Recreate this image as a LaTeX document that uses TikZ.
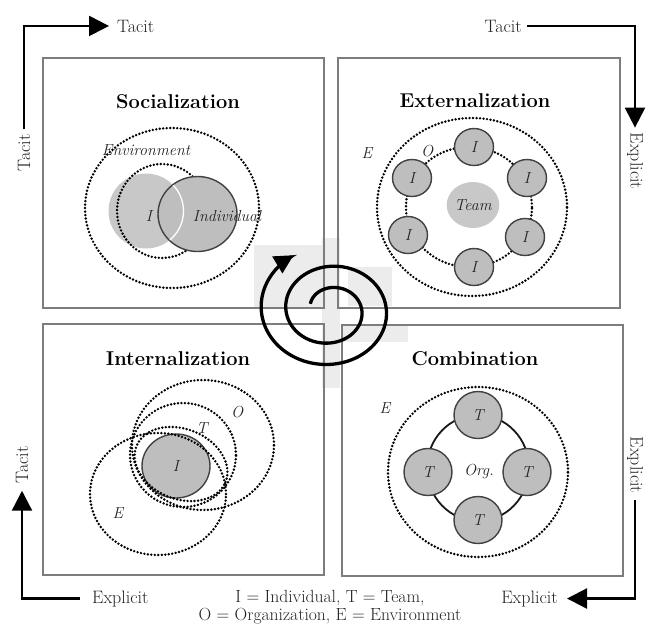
\documentclass[tikz,border=0pt]{standalone}
\usepackage{fontspec}
\setmainfont{Latin Modern Roman}
\usetikzlibrary{arrows.meta,shapes.geometric}
\definecolor{boxgray}{RGB}{125,125,125}
\definecolor{fillgray}{RGB}{190,190,190}
\definecolor{lightfill}{RGB}{200,200,200}
\definecolor{bgpatch}{RGB}{236,236,236}
\definecolor{txt}{RGB}{35,35,35}
\definecolor{rim}{RGB}{65,65,65}
\tikzset{
  quad/.style={draw=boxgray, line width=1.1pt},
  dotring/.style={draw=black, line width=2.7pt, dash pattern=on 0pt off 3.5pt, line cap=round},
  flow/.style={draw=black, line width=2.3pt, -{Triangle[length=20pt,width=20pt]}},
  lab/.style={font=\fontsize{18}{21}\selectfont, text=txt, inner sep=0pt},
  ilab/.style={font=\fontsize{16}{19}\selectfont\itshape, text=txt, inner sep=0pt},
  ttl/.style={font=\fontsize{20}{24}\selectfont\bfseries, inner sep=0pt, anchor=base},
  member/.style={ellipse, draw=rim, line width=1.4pt, fill=fillgray, inner sep=0pt,
    font=\fontsize{16}{19}\selectfont\itshape, text=txt},
  extmember/.style={member, minimum width=39pt, minimum height=37pt},
  teammember/.style={member, minimum width=48pt, minimum height=47pt},
}
\begin{document}
\begin{tikzpicture}[x=1pt,y=-1pt]
\useasboundingbox (0,0) rectangle (646,625);

% light background patches
\fill[bgpatch] (254,245) rectangle (324,308);
\fill[bgpatch] (322,238) rectangle (340,388);
\fill[bgpatch] (348,267) rectangle (392,306);
\fill[bgpatch] (342,325) rectangle (408,342);

% quadrant frames
\draw[quad] (43,58) rectangle (324,308);
\draw[quad] (338,58) rectangle (620,308);
\draw[quad] (43,324) rectangle (324,575);
\draw[quad] (342,325) rectangle (623,576);

% titles
\node[ttl] (tSoc) at (178,108) {Socialization};
\node[ttl] (tExt) at (475,107) {Externalization};
\node[ttl] (tInt) at (178,365) {Internalization};
\node[ttl] (tCom) at (475,365) {Combination};

% ---------- Socialization ----------
\node[circle, fill=lightfill, minimum size=75pt, inner sep=0pt] (Icirc) at (146,211) {};
\draw[dotring] (172,208) ellipse [x radius=87pt, y radius=80pt];
\draw[dotring] (162,211) ellipse [x radius=45pt, y radius=47pt];
\node[ellipse, fill=fillgray, draw=rim, line width=1.4pt, minimum width=79pt, minimum height=75pt, inner sep=0pt] (Indiv) at (197.5,214) {};
\begin{scope}
  \clip (197.5,214) ellipse [x radius=38.8pt, y radius=36.8pt];
  \draw[white, line width=1.3pt] (Icirc.center) circle [radius=37.5pt];
\end{scope}
\node[ilab] (lblI1) at (149,216) {I};
\node[ilab] (lblInd) at (227,216) {Individual};
\node[ilab] (lblEnv) at (146,150) {Environment};

% ---------- Externalization ----------
\draw[dotring] (472,207) ellipse [x radius=95pt, y radius=89pt];
\draw[dotring] (469,207) ellipse [x radius=63pt, y radius=60pt];
\node[ellipse, fill=lightfill, minimum width=50pt, minimum height=46pt, inner sep=0pt,
  font=\fontsize{16}{19}\selectfont\itshape, text=txt] (team) at (473,205) {Team};
\node[extmember] (e1) at (474,147) {I};
\node[extmember] (e2) at (527,178) {I};
\node[extmember] (e3) at (525,237) {I};
\node[extmember] (e4) at (474,267) {I};
\node[extmember] (e5) at (408,235) {I};
\node[extmember] (e6) at (412,178) {I};
\node[ilab] (lblE2) at (367,153) {E};
\node[ilab] (lblO2) at (427,151) {O};

% ---------- Internalization ----------
\node[member, minimum width=68pt, minimum height=64pt] (Iint) at (176,466) {I};
\draw[dotring] (203,445) ellipse [x radius=71pt, y radius=65pt];
\draw[dotring] (183,455) ellipse [x radius=53pt, y radius=52pt];
\draw[dotring] (158,494) ellipse [x radius=68pt, y radius=61pt];
\draw[dotring, rotate around={-22:(181,464)}] (181,464) ellipse [x radius=48pt, y radius=35pt];
\node[ilab] (lblO3) at (237,412) {O};
\node[ilab] (lblT3) at (202,428) {T};
\node[ilab] (lblE3) at (118,513) {E};

% ---------- Combination ----------
\draw[dotring] (478,472) ellipse [x radius=90pt, y radius=85pt];
\draw[line width=1.8pt, draw=black!90] (478,468) ellipse [x radius=51pt, y radius=53pt];
\node[teammember] (t1) at (478,415) {T};
\node[teammember] (t2) at (428,472) {T};
\node[teammember] (t3) at (527,472) {T};
\node[teammember] (t4) at (478,520) {T};
\node[ilab] (org) at (479,471) {Org.};
\node[ilab] (lblE4) at (385,408) {E};

% ---------- outer flow arrows ----------
\node[lab, rotate=90] (tacitV1) at (24,153) {Tacit};
\node[lab, anchor=base west] (tacitH1) at (117,32) {Tacit};
\draw[flow, shorten <=5pt, shorten >=8pt] (tacitV1.east) |- (tacitH1.west);

\node[lab, anchor=base east] (tacitH2) at (522,32) {Tacit};
\node[lab, rotate=-90] (explV1) at (635,161) {Explicit};
\draw[flow, shorten <=5pt, shorten >=5pt] (tacitH2.east) -| (explV1.west);

\node[lab, rotate=-90] (explV2) at (635,465) {Explicit};
\node[lab, anchor=base east] (explH2) at (558,603) {Explicit};
\draw[flow, shorten <=7pt, shorten >=9pt] (explV2.east) |- (explH2.east);

\node[lab, anchor=base west] (explH1) at (92,603) {Explicit};
\node[lab, rotate=90] (tacitV2) at (22,465) {Tacit};
\draw[flow, shorten <=12pt, shorten >=7pt] (explH1.west) -| (tacitV2.west);

% legend
\node[lab, align=center, font=\fontsize{17.6}{18}\selectfont] (legend) at (330,607)
  {I = Individual, T = Team,\\O = Organization, E = Environment};

% ---------- spiral ----------
\draw[line width=3.3pt, -{Triangle[length=19pt,width=19pt]}]
  plot[domain=200:960, samples=160, smooth, variable=\t]
  ({330 + 1.07*(19.5+0.0639*(\t-200))*cos(\t)}, {310 + 0.93*(19.5+0.0639*(\t-200))*sin(\t)});
\end{tikzpicture}
\end{document}
